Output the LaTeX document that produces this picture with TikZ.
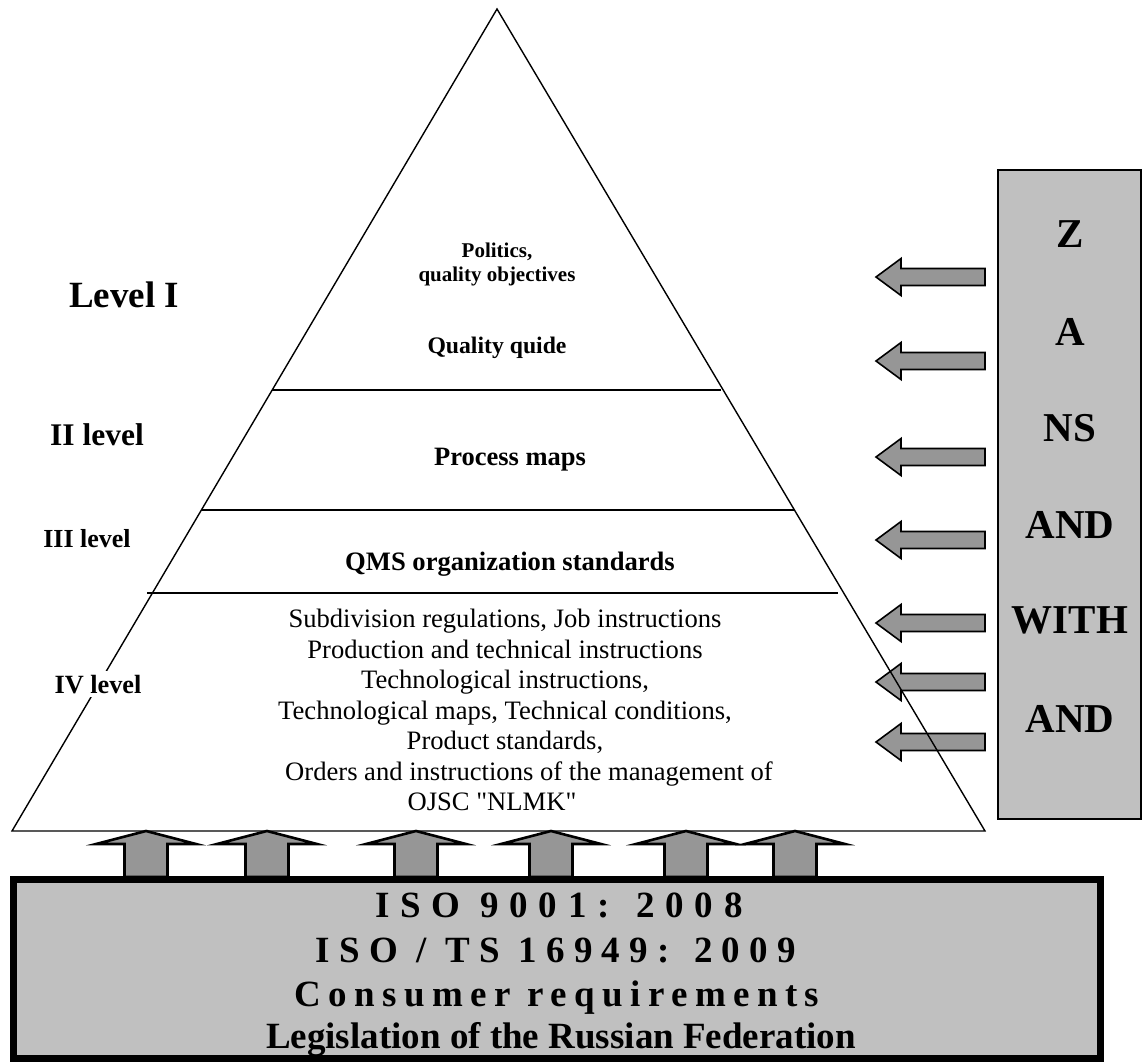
\documentclass[tikz,border=0pt]{standalone}
\usepackage{fontspec}
\setmainfont{Liberation Serif}
\definecolor{boxgray}{HTML}{C0C0C0}
\definecolor{arrowgray}{HTML}{969696}

\begin{document}
\begin{tikzpicture}[
    x=1pt, y=-1pt,
    pyr/.style={black, line width=1.4pt},
    tier/.style={black, line width=1.8pt},
    uparrow/.style={draw=black, fill=arrowgray, line width=2.6pt},
    leftarrow/.style={draw=black, fill=arrowgray, line width=1.6pt},
    sidebox/.style={draw=black, fill=boxgray, line width=1.5pt},
    isobox/.style={draw=black, fill=boxgray, line width=7pt},
    lvl/.style={anchor=base, inner sep=0pt},
    inside/.style={anchor=base, inner sep=0pt, align=center},
    sideword/.style={anchor=base, inner sep=0pt,
                     font=\fontsize{41}{44}\selectfont\bfseries},
    isotext/.style={anchor=base, inner sep=0pt,
                    font=\fontsize{37}{44}\selectfont\bfseries},
    spaced/.style={font=\fontsize{37}{44}\selectfont\bfseries\addfontfeature{LetterSpace=#1}},
]
\useasboundingbox (0,0) rectangle (1142,1063);

% ---- Arrows from the right column ----
\foreach \y in {277,361,457,540,623,682,742}
    \draw[leftarrow] (876,\y) -- ++(25,-18.5) -- ++(0,10) -- ++(84,0)
        -- ++(0,17) -- ++(-84,0) -- ++(0,10) -- cycle;

% ---- Arrows from the standards box ----
\foreach \x in {146,267,416,551,686,795}
    \draw[uparrow] (\x,831) -- ++(50,13) -- ++(-28.5,0) -- ++(0,33)
        -- ++(-43,0) -- ++(0,-33) -- ++(-28.5,0) -- cycle;

% ---- Pyramid ----
\coordinate (apex) at (497,9);
\coordinate (baseL) at (12,831);
\coordinate (baseR) at (985,831);
\draw[pyr] (apex) -- (baseL) -- (baseR) -- cycle;
\draw[tier] (272,390) -- (721,390);
\draw[tier] (201,510) -- (795,510);
\draw[tier] (147,593) -- (838,593);

\node[inside, anchor=north, font=\fontsize{21}{24}\selectfont\bfseries]
    (politics) at (497,242.5) {Politics,\\quality objectives};
\node[inside, font=\fontsize{23.7}{28}\selectfont\bfseries]
    (guide) at (497,353) {Quality quide};
\node[inside, font=\fontsize{26.5}{30}\selectfont\bfseries]
    (maps) at (510,465) {Process maps};
\node[inside, font=\fontsize{26.6}{30}\selectfont\bfseries]
    (qms) at (510,570) {QMS organization standards};
\node[inside, anchor=north, font=\fontsize{26.6}{30.5}\selectfont]
    (docs) at (505,609)
    {Subdivision regulations, Job instructions\\
     Production and technical instructions\\
     Technological instructions,\\
     Technological maps, Technical conditions,\\
     Product standards,\\
     \hspace*{48pt}Orders and instructions of the management of\\
     OJSC \textquotedbl NLMK\textquotedbl\hspace*{26pt}};

% ---- Level labels ----
\node[lvl, font=\fontsize{37}{40}\selectfont\bfseries] (lvlI) at (124,307) {Level I};
\node[lvl, font=\fontsize{31.5}{34}\selectfont\bfseries] (lvlII) at (97,445) {II level};
\node[lvl, font=\fontsize{26}{30}\selectfont\bfseries] (lvlIII) at (87,547) {III level};
\node[lvl, fill=white, inner sep=4pt, font=\fontsize{26.3}{30}\selectfont\bfseries]
    (lvlIV) at (98,693) {IV level};

% ---- Right column ----
\path[sidebox] (998,170) rectangle (1141,819);
\foreach \w/\y [count=\i] in {Z/247, A/345, NS/441, AND/538, WITH/633, AND/732}
    \node[sideword] (w\i) at (1070,\y) {\w};

% ---- Standards box ----
\path[isobox] (13.5,879.5) rectangle (1100.5,1058.5);
\node[isotext, spaced=29] (iso1) at (559,917) {ISO 9001: 2008};
\node[isotext, spaced=25] (iso2) at (556,962) {ISO / TS 16949: 2009};
\node[isotext, spaced=20] (cons) at (557,1006) {Consumer requirements};
\node[isotext] (law) at (561,1048) {Legislation of the Russian Federation};
\end{tikzpicture}
\end{document}
